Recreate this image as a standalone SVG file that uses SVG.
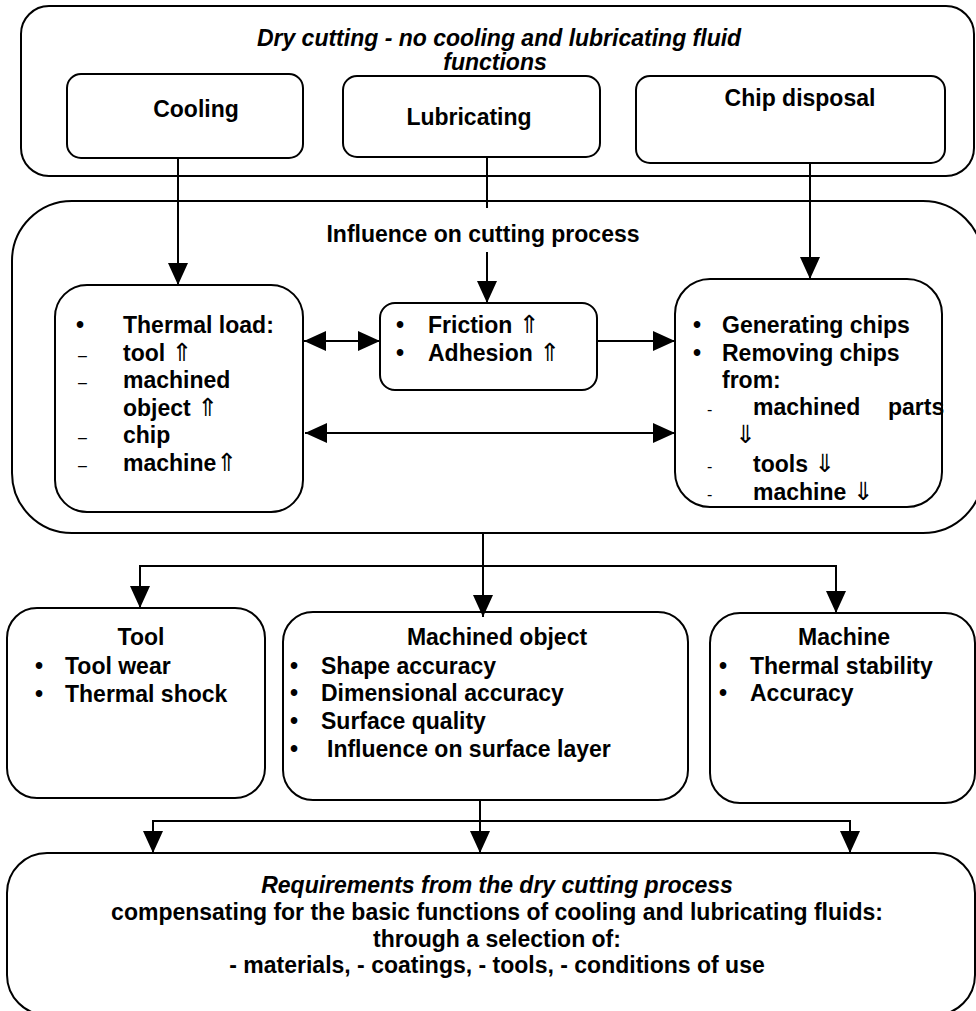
<svg xmlns="http://www.w3.org/2000/svg" width="976" height="1011" viewBox="0 0 976 1011">
<style>
.box{fill:#fff;stroke:#000;stroke-width:2}
.frame{fill:none;stroke:#000;stroke-width:2}
.t{font-family:"Liberation Sans","DejaVu Sans",Arial,sans-serif;font-size:23px;font-weight:bold;fill:#000}
.i{font-style:italic}
.m{text-anchor:middle}
.d{font-family:"Liberation Sans",Arial,sans-serif;font-size:16px;font-weight:normal;fill:#000}
.ar{font-family:"DejaVu Sans",sans-serif;font-size:25px;font-weight:normal}
.c{fill:none;stroke:#000;stroke-width:2}
</style>
<defs>
<marker id="ah" markerUnits="userSpaceOnUse" markerWidth="22" markerHeight="20" viewBox="0 0 22 20" refX="22" refY="10" orient="auto-start-reverse">
<path d="M0,0 L22,10 L0,20 z" fill="#000"/>
</marker>
</defs>
<rect width="976" height="1011" fill="#fff"/>

<g id="top-frame">
<rect class="frame" x="21" y="6" width="953" height="170" rx="28"/>
<text class="t i m" x="499" y="46">Dry cutting - no cooling and lubricating fluid</text>
<text class="t i m" x="495" y="70">functions</text>
</g>
<g id="cooling">
<rect class="box" x="67" y="74" width="236" height="84" rx="14"/>
<text class="t m" x="196" y="117">Cooling</text>
</g>
<g id="lubricating">
<rect class="box" x="343" y="76" width="257" height="81" rx="14"/>
<text class="t m" x="469" y="125">Lubricating</text>
</g>
<g id="chip-disposal">
<rect class="box" x="636" y="76" width="309" height="87" rx="14"/>
<text class="t m" x="800" y="106">Chip disposal</text>
</g>

<g id="influence-frame">
<rect class="frame" x="12" y="201" width="971" height="332" rx="60"/>
<text class="t m" x="483" y="242">Influence on cutting process</text>
</g>
<g id="thermal-load">
<rect class="box" x="55" y="285" width="248" height="227" rx="32"/>
<text class="t" x="76" y="333">•</text>
<text class="t" x="123" y="333">Thermal load:</text>
<text class="d" x="78" y="361">–</text>
<text class="t" x="123" y="361">tool <tspan class="ar">⇑</tspan></text>
<text class="d" x="78" y="388">–</text>
<text class="t" x="123" y="388">machined</text>
<text class="t" x="123" y="416">object <tspan class="ar">⇑</tspan></text>
<text class="d" x="78" y="443">–</text>
<text class="t" x="123" y="443">chip</text>
<text class="d" x="78" y="471">–</text>
<text class="t" x="123" y="471">machine<tspan class="ar">⇑</tspan></text>
</g>
<g id="friction">
<rect class="box" x="380" y="303" width="217" height="87" rx="15"/>
<text class="t" x="396" y="333">•</text>
<text class="t" x="428" y="333">Friction <tspan class="ar">⇑</tspan></text>
<text class="t" x="396" y="361">•</text>
<text class="t" x="428" y="361">Adhesion <tspan class="ar">⇑</tspan></text>
</g>
<g id="chips">
<rect class="box" x="675" y="279" width="267" height="228" rx="35"/>
<text class="t" x="693" y="333">•</text>
<text class="t" x="722" y="333">Generating chips</text>
<text class="t" x="693" y="361">•</text>
<text class="t" x="722" y="361">Removing chips</text>
<text class="t" x="722" y="388">from:</text>
<text class="d" x="707" y="415">-</text>
<text class="t" x="753" y="415">machined</text>
<text class="t" x="888" y="415">parts</text>
<text class="t" x="735" y="443"><tspan class="ar">⇓</tspan></text>
<text class="d" x="707" y="472">-</text>
<text class="t" x="753" y="472">tools <tspan class="ar">⇓</tspan></text>
<text class="d" x="707" y="500">-</text>
<text class="t" x="753" y="500">machine <tspan class="ar">⇓</tspan></text>
</g>

<g id="tool">
<rect class="box" x="7" y="608" width="258" height="190" rx="30"/>
<text class="t m" x="141" y="645">Tool</text>
<text class="t" x="35" y="674">•</text>
<text class="t" x="65" y="674">Tool wear</text>
<text class="t" x="35" y="702">•</text>
<text class="t" x="65" y="702">Thermal shock</text>
</g>
<g id="machined-object">
<rect class="box" x="283" y="612" width="405" height="188" rx="30"/>
<text class="t m" x="497" y="645">Machined object</text>
<text class="t" x="290" y="674">•</text>
<text class="t" x="321" y="674">Shape accuracy</text>
<text class="t" x="290" y="701">•</text>
<text class="t" x="321" y="701">Dimensional accuracy</text>
<text class="t" x="290" y="729">•</text>
<text class="t" x="321" y="729">Surface quality</text>
<text class="t" x="290" y="757">•</text>
<text class="t" x="327" y="757">Influence on surface layer</text>
</g>
<g id="machine">
<rect class="box" x="710" y="613" width="265" height="190" rx="30"/>
<text class="t m" x="844" y="645">Machine</text>
<text class="t" x="719" y="674">•</text>
<text class="t" x="750" y="674">Thermal stability</text>
<text class="t" x="719" y="701">•</text>
<text class="t" x="750" y="701">Accuracy</text>
</g>

<g id="requirements">
<rect class="box" x="7" y="853" width="968" height="162" rx="40"/>
<text class="t i m" x="497" y="893">Requirements from the dry cutting process</text>
<text class="t m" x="497" y="920">compensating for the basic functions of cooling and lubricating fluids:</text>
<text class="t m" x="497" y="947">through a selection of:</text>
<text class="t m" x="497" y="973">- materials, - coatings, - tools, - conditions of use</text>
</g>

<g id="connectors">
<path class="c" d="M178,158 V285" marker-end="url(#ah)"/>
<path class="c" d="M487,157 V208"/>
<path class="c" d="M487,252 V303" marker-end="url(#ah)"/>
<path class="c" d="M810,163 V279" marker-end="url(#ah)"/>
<path class="c" d="M304,341 H380" marker-start="url(#ah)" marker-end="url(#ah)"/>
<path class="c" d="M597,341 H675" marker-end="url(#ah)"/>
<path class="c" d="M305,433 H675" marker-start="url(#ah)" marker-end="url(#ah)"/>
<path class="c" d="M483,533 V617" marker-end="url(#ah)"/>
<path class="c" d="M140,566 H836"/>
<path class="c" d="M140,565 V608" marker-end="url(#ah)"/>
<path class="c" d="M836,565 V613" marker-end="url(#ah)"/>
<path class="c" d="M480,800 V853" marker-end="url(#ah)"/>
<path class="c" d="M153,821 H850"/>
<path class="c" d="M153,820 V853" marker-end="url(#ah)"/>
<path class="c" d="M850,820 V853" marker-end="url(#ah)"/>
</g>
</svg>
